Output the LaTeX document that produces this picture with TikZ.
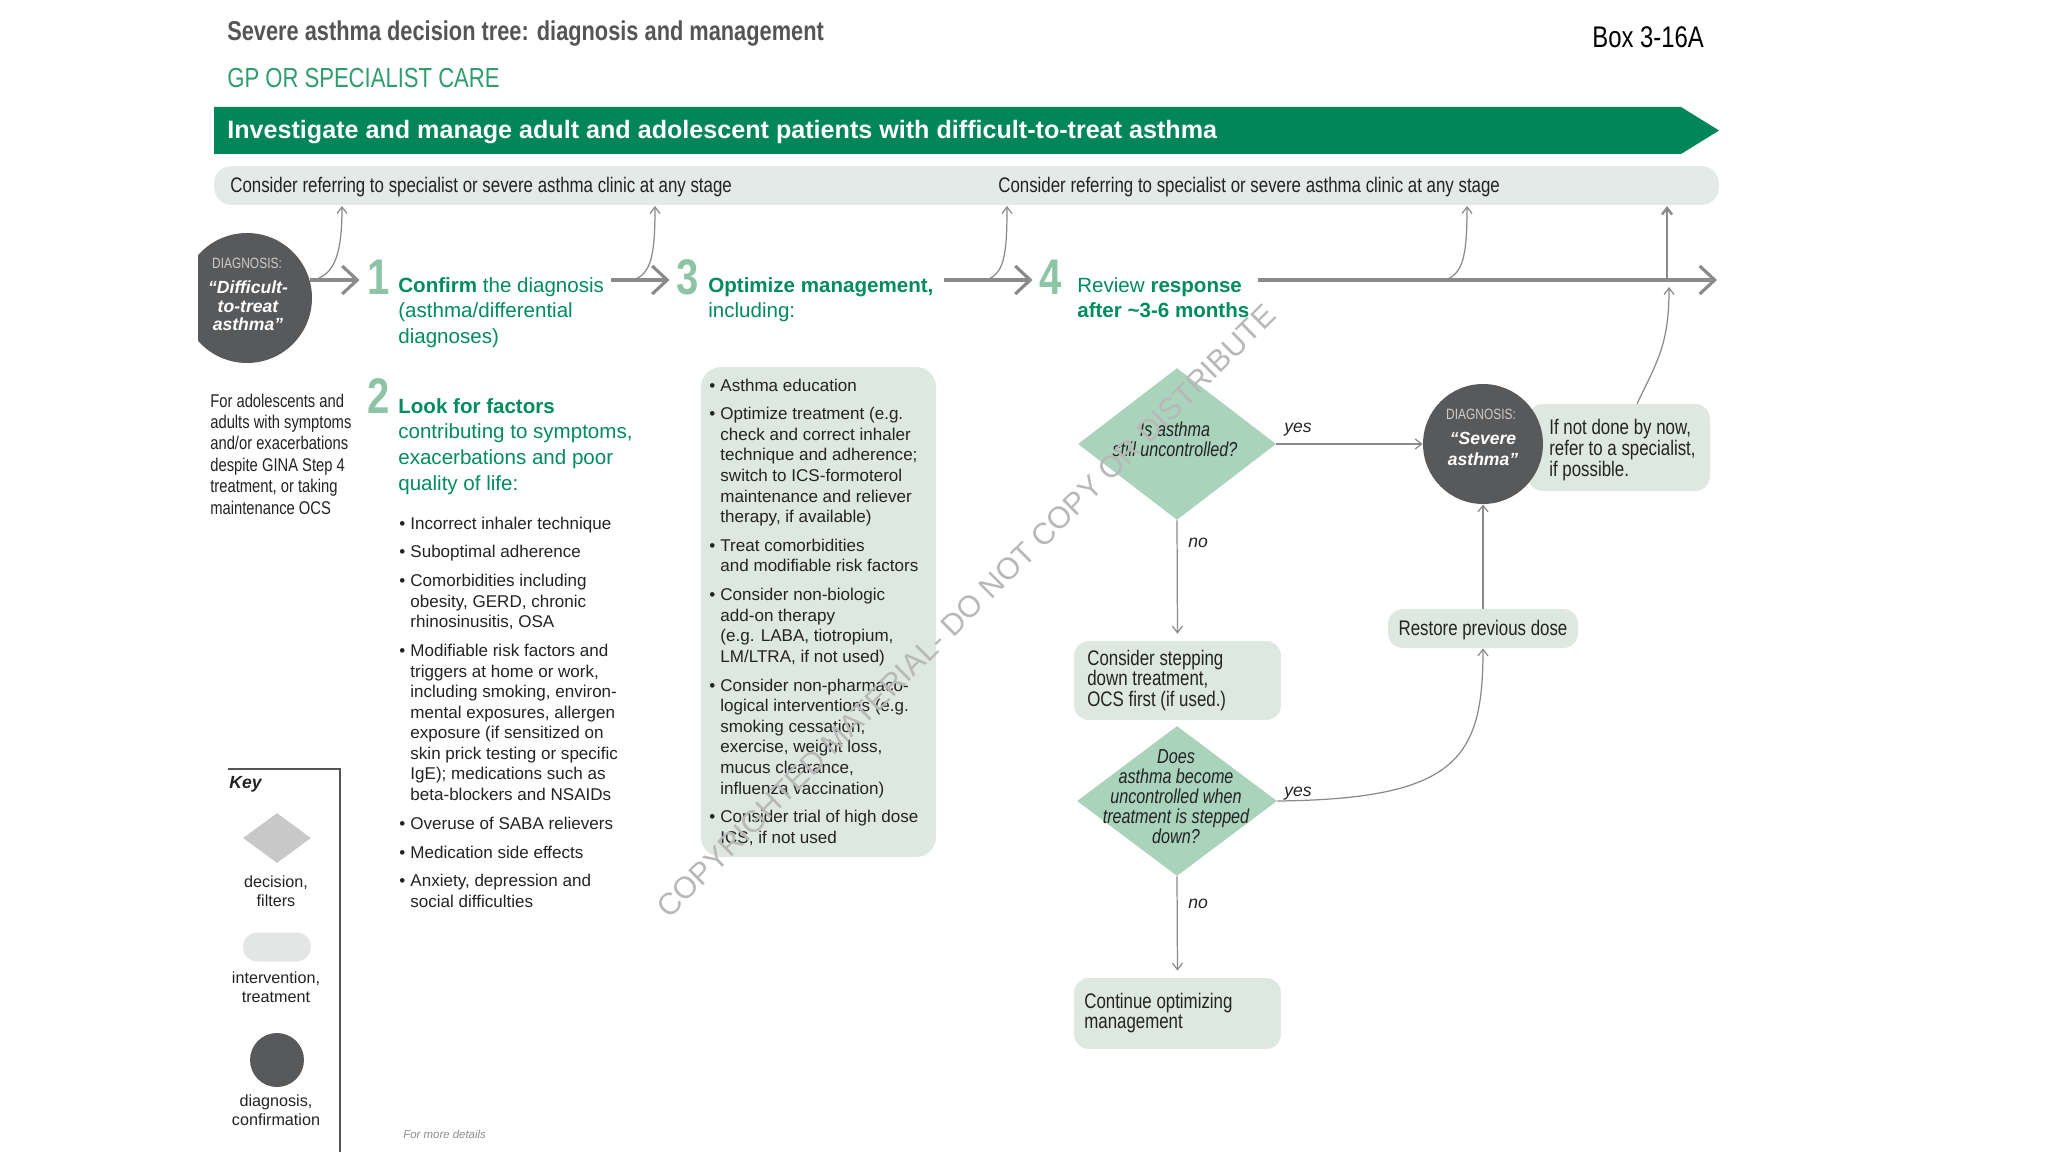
\documentclass[tikz,border=0pt]{standalone}
\usepackage{fontspec}
\setmainfont{Liberation Sans}
\newfontfamily\narrowsans[FakeStretch=0.8]{Liberation Sans}
\usetikzlibrary{positioning, arrows.meta, shapes.geometric}

\definecolor{gina}{RGB}{0,134,88}
\definecolor{stepgreen}{RGB}{0,140,92}
\definecolor{gpgreen}{RGB}{46,158,110}
\definecolor{numgreen}{RGB}{140,196,165}
\definecolor{barfill}{RGB}{228,234,231}
\definecolor{boxfill}{RGB}{220,232,224}
\definecolor{decfill}{RGB}{170,211,188}
\definecolor{diagfill}{RGB}{88,89,91}
\definecolor{arrowgray}{RGB}{138,138,138}
\definecolor{titlegray}{RGB}{85,85,85}
\definecolor{bodytext}{RGB}{35,35,35}
\definecolor{keydec}{RGB}{200,200,200}
\definecolor{keypill}{RGB}{228,230,229}

% bullet item with hanging indent
\newcommand{\itm}{\par\hangindent=6.3pt\hangafter=1\noindent\makebox[6.3pt][l]{•}}

\begin{document}
\begin{tikzpicture}[x=0.02cm, y=-0.02cm,
  txt/.style={inner sep=0pt, anchor=base west, text=bodytext},
  ctxt/.style={inner sep=0pt, anchor=base, text=bodytext},
  bigarrow/.style={draw=arrowgray, line width=2.8pt, -{Straight Barb[length=0.3cm, width=0.56cm, line width=1.8pt]}},
  thinarrow/.style={draw=arrowgray, line width=0.7pt, -{Straight Barb[length=0.13cm, width=0.2cm]}},
  greybox/.style={fill=boxfill, rounded corners=0.3cm, inner sep=0pt},
  decision/.style={diamond, fill=decfill, inner sep=0pt},
  diag/.style={circle, fill=diagfill, inner sep=0pt},
  stepnum/.style={inner sep=0pt, anchor=base, text=numgreen, font=\narrowsans\bfseries\fontsize{28.5}{28.5}\selectfont},
  steptxt/.style={txt, text=stepgreen, font=\fontsize{11.7}{14.7}\selectfont},
  bullets/.style={txt, font=\fontsize{9.7}{11.7}\selectfont},
  nartxt/.style={txt, font=\narrowsans\fontsize{12}{11.9}\selectfont},
  qtxt/.style={ctxt, font=\narrowsans\itshape\fontsize{11.5}{11.4}\selectfont},
  yesno/.style={txt, font=\itshape\fontsize{10}{12}\selectfont},
  diagsmall/.style={ctxt, text=black!20, font=\narrowsans\fontsize{8.5}{10}\selectfont},
  diagbig/.style={ctxt, text=white, font=\bfseries\itshape\fontsize{10}{10.3}\selectfont},
  keytxt/.style={ctxt, font=\fontsize{9.2}{11}\selectfont}
]
\useasboundingbox (0,0) rectangle (2048,1152);
\fill[white] (0,0) rectangle (2048,1152);

% -------------------------
% Heading
% -------------------------
\node[txt, text=titlegray, font=\narrowsans\bfseries\fontsize{15.5}{18}\selectfont] (title) at (227,41)
  {Severe asthma decision tree: diagnosis and management};
\node[txt, text=black, font=\narrowsans\fontsize{17}{20}\selectfont] (boxno) at (1592,48) {Box 3-16A};
\node[txt, text=gpgreen, font=\narrowsans\fontsize{15.7}{18}\selectfont] (care) at (227,88) {GP OR SPECIALIST CARE};

\fill[gina] (214,107) -- (1681,107) -- (1719,130.5) -- (1681,154) -- (214,154) -- cycle;
\node[txt, text=white, font=\bfseries\fontsize{14.3}{17}\selectfont] (banner) at (227,139)
  {Investigate and manage adult and adolescent patients with difficult-to-treat asthma};

% referral bar
\node[fill=barfill, rounded corners=0.35cm, minimum width=30.1cm, minimum height=0.78cm, inner sep=0pt] (refbar) at (966.5,185.5) {};
\node[txt, font=\narrowsans\fontsize{12}{14}\selectfont] (ref1) at (230,193)
  {Consider referring to specialist or severe asthma clinic at any stage};
\node[txt, font=\narrowsans\fontsize{12}{14}\selectfont] (ref2) at (998,193)
  {Consider referring to specialist or severe asthma clinic at any stage};

% -------------------------
% Start: difficult-to-treat asthma
% -------------------------
\begin{scope}
  \clip (198,200) rectangle (400,400);
  \node[diag, minimum size=2.6cm] (dtt) at (247,298) {};
\end{scope}
\node[diagsmall] (dttlab) at (247,268) {DIAGNOSIS:};
\node[diagbig] (dtttxt) at (248,294) {\parbox[t]{3cm}{\centering ``Difficult-\\to-treat\\asthma''}};

\node[txt, font=\narrowsans\fontsize{10.5}{12.2}\selectfont] (who) at (210,407)
  {\parbox[t]{4cm}{For adolescents and\\adults with symptoms\\and/or exacerbations\\despite GINA Step 4\\treatment, or taking\\maintenance OCS}};

% -------------------------
% Steps 1-4
% -------------------------
\node[stepnum] (n1) at (379,295) {1};
\node[stepnum] (n2) at (379,413) {2};
\node[stepnum] (n3) at (688,295) {3};
\node[stepnum] (n4) at (1051,295) {4};

\node[steptxt] (s1) at (398,292)
  {\parbox[t]{6cm}{\textbf{Confirm} the diagnosis\\(asthma/differential\\diagnoses)}};
\node[steptxt] (s2) at (398,413)
  {\parbox[t]{6cm}{\textbf{Look for factors}\\contributing to symptoms,\\exacerbations and poor\\quality of life:}};
\node[steptxt] (s3) at (708,292)
  {\parbox[t]{6cm}{\textbf{Optimize management,}\\including:}};
\node[steptxt] (s4) at (1077,292)
  {\parbox[t]{6cm}{Review \textbf{response}\\\textbf{after \textasciitilde3-6 months}}};

% factors list
\node[bullets] (factors) at (399,529) {\parbox[t]{8cm}{\setlength{\parskip}{4.7pt}%
  \itm Incorrect inhaler technique
  \itm Suboptimal adherence
  \itm Comorbidities including\\obesity, GERD, chronic\\rhinosinusitis, OSA
  \itm Modifiable risk factors and\\triggers at home or work,\\including smoking, environ-\\mental exposures, allergen\\exposure (if sensitized on\\skin prick testing or specific\\IgE); medications such as\\beta-blockers and NSAIDs
  \itm Overuse of SABA relievers
  \itm Medication side effects
  \itm Anxiety, depression and\\social difficulties}};

% management box
\node[greybox, rounded corners=0.4cm, minimum width=4.7cm, minimum height=9.8cm] (mgmt) at (818.5,612) {};
\node[bullets] (mgmtlist) at (709,391) {\parbox[t]{8cm}{\setlength{\parskip}{4.7pt}%
  \itm Asthma education
  \itm Optimize treatment (e.g.\\check and correct inhaler\\technique and adherence;\\switch to ICS-formoterol\\maintenance and reliever\\therapy, if available)
  \itm Treat comorbidities\\and modifiable risk factors
  \itm Consider non-biologic\\add-on therapy\\(e.g. LABA, tiotropium,\\LM/LTRA, if not used)
  \itm Consider non-pharmaco-\\logical interventions (e.g.\\smoking cessation,\\exercise, weight loss,\\mucus clearance,\\influenza vaccination)
  \itm Consider trial of high dose\\ICS, if not used}};

% -------------------------
% Review branch
% -------------------------
\node[decision, minimum width=3.96cm, minimum height=3.04cm] (still) at (1177,444) {};
\node[qtxt] (stilltxt) at (1175,436) {\parbox[t]{4cm}{\centering Is asthma\\still uncontrolled?}};

\node[greybox, minimum width=4.14cm, minimum height=1.58cm] (stepdown) at (1177.5,680.5) {};
\node[nartxt] (stepdowntxt) at (1087,665) {\parbox[t]{4cm}{Consider stepping\\down treatment,\\OCS first (if used.)}};

\node[decision, minimum width=4cm, minimum height=3cm] (worse) at (1177,801) {};
\node[qtxt] (worsetxt) at (1176,763)
  {\parbox[t]{4cm}{\centering Does\\asthma become\\uncontrolled when\\treatment is stepped\\down?}};

\node[greybox, minimum width=4.14cm, minimum height=1.42cm] (cont) at (1177.5,1013.5) {};
\node[nartxt] (conttxt) at (1084,1008) {\parbox[t]{4cm}{Continue optimizing\\management}};

\node[greybox, minimum width=3.8cm, minimum height=0.78cm] (restore) at (1483,628.5) {};
\node[nartxt, anchor=base] (restoretxt) at (1483,635) {Restore previous dose};

\node[greybox, minimum width=3.64cm, minimum height=1.74cm] (refer) at (1619,447.5) {};
\node[nartxt, font=\narrowsans\fontsize{12}{12.1}\selectfont] (refertxt) at (1549,434)
  {\parbox[t]{4cm}{If not done by now,\\refer to a specialist,\\if possible.}};

\node[diag, minimum size=2.4cm] (severe) at (1483,444) {};
\node[diagsmall] (sevlab) at (1481,419) {DIAGNOSIS:};
\node[diagbig, font=\bfseries\itshape\fontsize{10}{12}\selectfont] (sevtxt) at (1483,444)
  {\parbox[t]{3cm}{\centering ``Severe\\asthma''}};

% -------------------------
% Main flow arrows
% -------------------------
\coordinate (a2s) at (611,280);
\coordinate (a3s) at (944,280);
\coordinate (a4s) at (1258,280);
\coordinate (a4e) at (1717,280);

\draw[bigarrow, shorten >=0.16cm] (dtt.16) -- (dtt.16 -| n1.west);
\draw[bigarrow, shorten >=0.14cm] (a2s) -- (a2s -| n3.west);
\draw[bigarrow, shorten >=0.14cm] (a3s) -- (a3s -| n4.west);
\draw[bigarrow] (a4s) -- (a4e);

% referral arrows up to the bar
\coordinate (r1a) at (314,280);  \coordinate (r1b) at (342,206);
\coordinate (r2a) at (633,280);  \coordinate (r2b) at (655,206);
\coordinate (r3a) at (986,280);  \coordinate (r3b) at (1007,206);
\coordinate (r4a) at (1445,280); \coordinate (r4b) at (1467,206);
\coordinate (r5a) at (1667,280); \coordinate (r5b) at (1667,206);
\coordinate (r6b) at (1669,287);

\draw[thinarrow] (r1a) .. controls +(20,-6) and +(0,50) .. (r1b);
\draw[thinarrow] (r2a) .. controls +(18,-6) and +(0,50) .. (r2b);
\draw[thinarrow] (r3a) .. controls +(18,-6) and +(0,50) .. (r3b);
\draw[thinarrow] (r4a) .. controls +(18,-6) and +(0,50) .. (r4b);
\draw[thinarrow, line width=1.4pt] (r5a) -- (r5b);
\draw[thinarrow] (refer.north -| 1637,0) .. controls +(22,-45) and +(0,55) .. (r6b);

% decision connectors
\draw[thinarrow] (still.east) -- (severe.west);
\draw[thinarrow, shorten >=4pt] (still.south) -- (stepdown.north);
\draw[thinarrow, shorten >=4pt] (worse.south) -- (cont.north);
\draw[thinarrow] (worse.east) .. controls +(180,-2) and +(0,110) .. (restore.south);
\draw[thinarrow] (restore.north) -- (severe.south);

\node[yesno] (yes1) at (1284,432) {yes};
\node[yesno] (no1) at (1188,547) {no};
\node[yesno] (yes2) at (1284,796) {yes};
\node[yesno] (no2) at (1188,908) {no};

% -------------------------
% Key
% -------------------------
\draw[titlegray, line width=0.8pt] (228,769) -- (340,769) -- (340,1152);
\node[txt, font=\bfseries\itshape\fontsize{10}{12}\selectfont] (keyhead) at (229,788) {Key};
\node[decision, fill=keydec, minimum width=1.36cm, minimum height=1cm] (keydec) at (277,838) {};
\node[keytxt] (keydectxt) at (276,887) {\parbox[t]{3cm}{\centering decision,\\filters}};
\node[fill=keypill, rounded corners=0.29cm, minimum width=1.36cm, minimum height=0.58cm, inner sep=0pt] (keypill) at (277,947) {};
\node[keytxt] (keypilltxt) at (276,983) {\parbox[t]{3cm}{\centering intervention,\\treatment}};
\node[diag, minimum size=1.08cm] (keydiag) at (277,1060) {};
\node[keytxt] (keydiagtxt) at (276,1106) {\parbox[t]{3cm}{\centering diagnosis,\\confirmation}};

\node[txt, text=black!45, font=\itshape\fontsize{6.5}{7}\selectfont] (more) at (403,1138) {For more details};

% watermark
\node[text=black!28, rotate=44.7, font=\fontsize{17.3}{20}\selectfont, inner sep=0pt] (wmark) at (966,611)
  {COPYRIGHTED MATERIAL- DO NOT COPY OR DISTRIBUTE};

\end{tikzpicture}
\end{document}
